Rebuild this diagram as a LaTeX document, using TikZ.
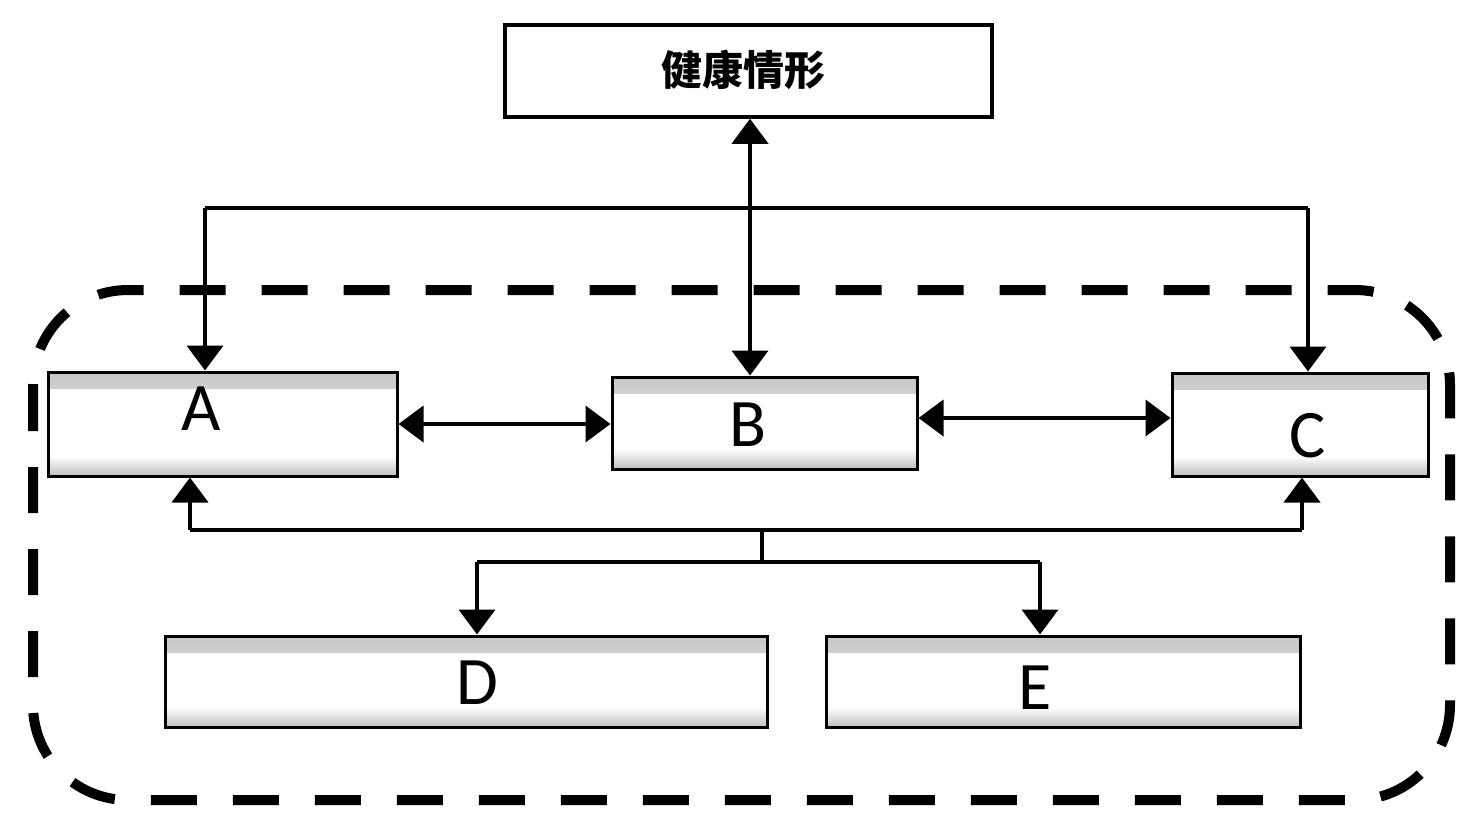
\documentclass[tikz,border=0pt]{standalone}
\usepackage{fontspec}
\setmainfont{Carlito}
\newfontfamily\cjk{Noto Sans CJK SC}
\usetikzlibrary{arrows.meta,calc}
\tikzset{
  box/.style={draw, line width=3pt, fill=white, inner sep=0pt,
    path picture={
      \shade[top color=gray!45, bottom color=white]
        (path picture bounding box.north west) rectangle ([yshift=-16pt]path picture bounding box.north east);
      \shade[top color=white, bottom color=gray!50]
        ([yshift=20pt]path picture bounding box.south west) rectangle (path picture bounding box.south east);
    }},
  topbox/.style={draw, line width=3.5pt, fill=white, inner sep=0pt},
  letter/.style={font=\fontsize{68}{68}\selectfont, inner sep=0pt},
  conn/.style={line width=4pt},
  tip/.style={-{Triangle[width=36pt,length=25pt]}},
  dbl/.style={{Triangle[width=36pt,length=25pt]}-{Triangle[width=36pt,length=25pt]}},
  border/.style={line width=10pt, dash pattern=on 46pt off 36pt, rounded corners=95pt}
}
\begin{document}
\begin{tikzpicture}[x=1pt,y=1pt]
\useasboundingbox (0,0) rectangle (1479,-830);
% dashed outer frame
\draw[border] (33,-290) rectangle (1450,-800);
% top box
\node[topbox, minimum width=487pt, minimum height=92pt] (T) at (748.5,-71) {};
\node[font=\cjk\bfseries\fontsize{41}{41}\selectfont] (Tt) at (743,-70) {健康情形};
% boxes
\node[box, minimum width=349pt, minimum height=104pt] (A) at (222.5,-424) {};
\node[box, minimum width=305pt, minimum height=92pt] (B) at (764.5,-423) {};
\node[box, minimum width=256pt, minimum height=103pt] (C) at (1300,-424.5) {};
\node[box, minimum width=602pt, minimum height=91pt] (D) at (466,-681.5) {};
\node[box, minimum width=474pt, minimum height=91pt] (E) at (1063,-681.5) {};
\node[letter] (At) at (201,-409) {A};
\node[letter] (Bt) at (748,-425) {B};
\node[letter] (Ct) at (1308,-436) {C};
\node[letter] (Dt) at (477,-683) {D};
\node[letter] (Et) at (1035,-688) {E};
% coordinates
\coordinate (v) at (750,-208);
\coordinate (hl) at (205,-208);
\coordinate (hr) at (1308,-208);
\coordinate (ll) at (190,-530);
\coordinate (lr) at (1302,-530);
\coordinate (lm) at (762,-530);
\coordinate (mm) at (762,-562);
\coordinate (md) at (477,-562);
\coordinate (me) at (1040,-562);
\coordinate (bc) at ([yshift=5pt]B.east);
% top connectors
\draw[conn, dbl] (T.south -| v) -- (B.north -| v);
\draw[conn] (hl) -- (hr);
\draw[conn, tip] (hl) -- (A.north -| hl);
\draw[conn, tip] (hr) -- (C.north -| hr);
% horizontal double arrows
\draw[conn, dbl] (A.east) -- (B.west |- A.east);
\draw[conn, dbl] (bc) -- (C.west |- bc);
% lower bar
\draw[conn] (ll) -- (lr);
\draw[conn, tip] (ll) -- (A.south -| ll);
\draw[conn, tip] (lr) -- (C.south -| lr);
\draw[conn] (lm) -- (mm);
\draw[conn] (md) -- (me);
\draw[conn, tip] (md) -- (D.north -| md);
\draw[conn, tip] (me) -- (E.north -| me);
\end{tikzpicture}
\end{document}
